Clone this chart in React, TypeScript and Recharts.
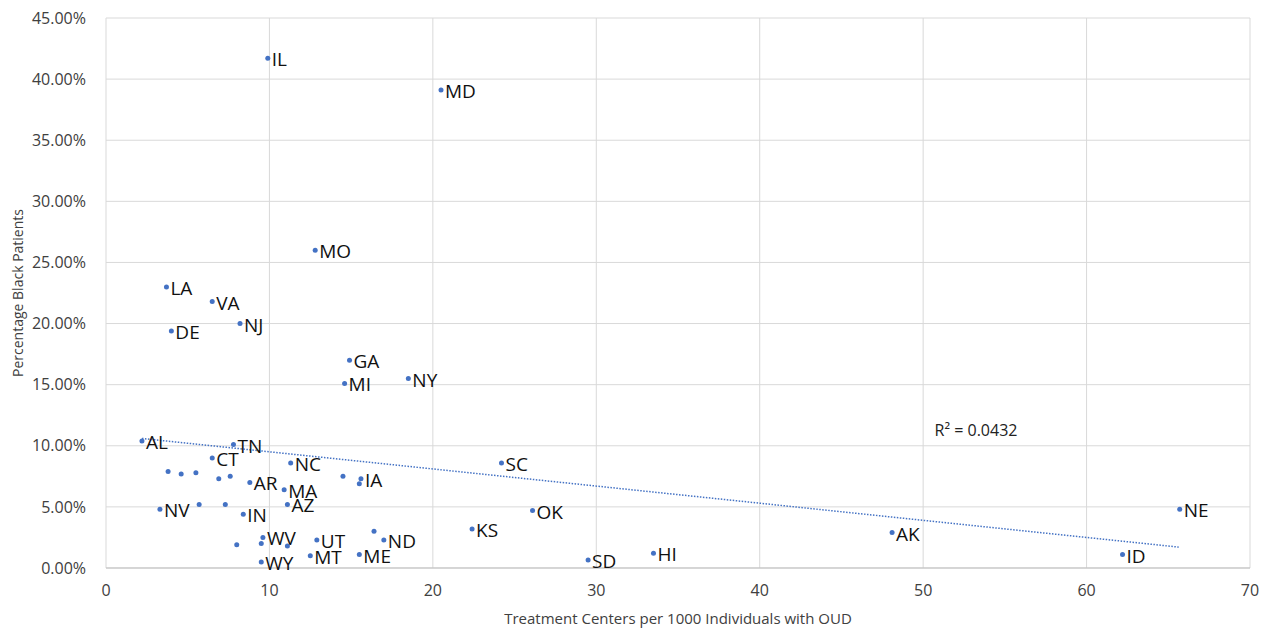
import {
  CartesianGrid,
  ReferenceDot,
  Scatter,
  ScatterChart,
  XAxis,
  YAxis,
} from "recharts";

const states = [
  "IL", "MD", "MO", "LA", "VA", "NJ", "DE", "GA", "MI", "NY",
  "AL", "TN", "CT", "", "", "", "", "", "AR", "MA",
  "NC", "AZ", "NV", "", "", "IN", "WV", "", "", "",
  "WY", "UT", "MT", "", "IA", "", "", "ND", "ME", "KS",
  "SC", "OK", "SD", "HI", "AK", "ID", "NE",
];
const centers = [
  9.9, 20.5, 12.8, 3.7, 6.5, 8.2, 4.0, 14.9, 14.6, 18.5,
  2.2, 7.8, 6.5, 3.8, 4.6, 5.5, 6.9, 7.6, 8.8, 10.9,
  11.3, 11.1, 3.3, 5.7, 7.3, 8.4, 9.6, 9.5, 8.0, 11.1,
  9.5, 12.9, 12.5, 14.5, 15.6, 15.5, 16.4, 17.0, 15.5, 22.4,
  24.2, 26.1, 29.5, 33.5, 48.1, 62.2, 65.7,
];
const blackPct = [
  41.7, 39.1, 26.0, 23.0, 21.8, 20.0, 19.4, 17.0, 15.1, 15.5,
  10.4, 10.1, 9.0, 7.9, 7.7, 7.8, 7.3, 7.5, 7.0, 6.4,
  8.6, 5.2, 4.8, 5.2, 5.2, 4.4, 2.5, 2.0, 1.9, 1.8,
  0.5, 2.3, 1.0, 7.5, 7.3, 6.9, 3.0, 2.3, 1.1, 3.2,
  8.6, 4.7, 0.65, 1.2, 2.9, 1.1, 4.8,
];

// trendline endpoints as drawn in the source
const trendX = [2.2, 65.7];
const trendY = [10.6, 1.7];

const xTicks = [0, 10, 20, 30, 40, 50, 60, 70];
const yTicks = [0, 5, 10, 15, 20, 25, 30, 35, 40, 45];

const points = states.map((s, i) => ({ state: s, x: centers[i], y: blackPct[i] }));
const trend = trendX.map((x, i) => ({ x, y: trendY[i] }));

const FONT = "'Open Sans', sans-serif";

const StateDot = (props: any) => {
  const { cx, cy, payload } = props;
  return (
    <g>
      <circle cx={cx} cy={cy} r={2.5} fill="#4472C4" />
      {payload.state && (
        <text
          x={cx + 4}
          y={cy + 1}
          dominantBaseline="central"
          fontSize={19}
          fontFamily={FONT}
          fill="#111"
        >
          {payload.state}
        </text>
      )}
    </g>
  );
};

export default function App() {
  return (
    <div style={{ position: "absolute", left: 0, top: 0, background: "#fff" }}>
      <ScatterChart
        width={1271}
        height={628}
        margin={{ top: 18, right: 21, left: 26, bottom: 4 }}
      >
        <CartesianGrid stroke="#d9d9d9" />
        <XAxis
          type="number"
          dataKey="x"
          domain={[0, 70]}
          ticks={xTicks}
          height={56}
          tickLine={false}
          axisLine={{ stroke: "#bfbfbf" }}
          tick={{ fontSize: 16, fill: "#404040", fontFamily: FONT }}
          tickMargin={11}
          label={{
            value: "Treatment Centers per 1000 Individuals with OUD",
            position: "insideBottom",
            offset: 0,
            fontSize: 15,
            fill: "#404040",
            fontFamily: FONT,
          }}
        />
        <YAxis
          type="number"
          dataKey="y"
          domain={[0, 45]}
          ticks={yTicks}
          width={80}
          tickLine={false}
          axisLine={false}
          tickMargin={14}
          tickFormatter={(v: number) => `${v.toFixed(2)}%`}
          tick={{ fontSize: 16, fill: "#404040", fontFamily: FONT }}
          label={{
            value: "Percentage Black Patients",
            angle: -90,
            position: "insideLeft",
            offset: -8,
            style: { textAnchor: "middle" },
            fontSize: 14,
            fill: "#404040",
            fontFamily: FONT,
          }}
        />
        <Scatter
          data={trend}
          line={{ stroke: "#4472C4", strokeWidth: 1.5, strokeDasharray: "1.5 1.5" }}
          shape={() => <g />}
          isAnimationActive={false}
        />
        <Scatter data={points} shape={StateDot} isAnimationActive={false} />
        <ReferenceDot
          x={50.7}
          y={11.3}
          r={0}
          ifOverflow="visible"
          label={{
            value: "R² = 0.0432",
            position: "right",
            offset: 0,
            fontSize: 16,
            fill: "#222",
            fontFamily: FONT,
          }}
        />
      </ScatterChart>
    </div>
  );
}
